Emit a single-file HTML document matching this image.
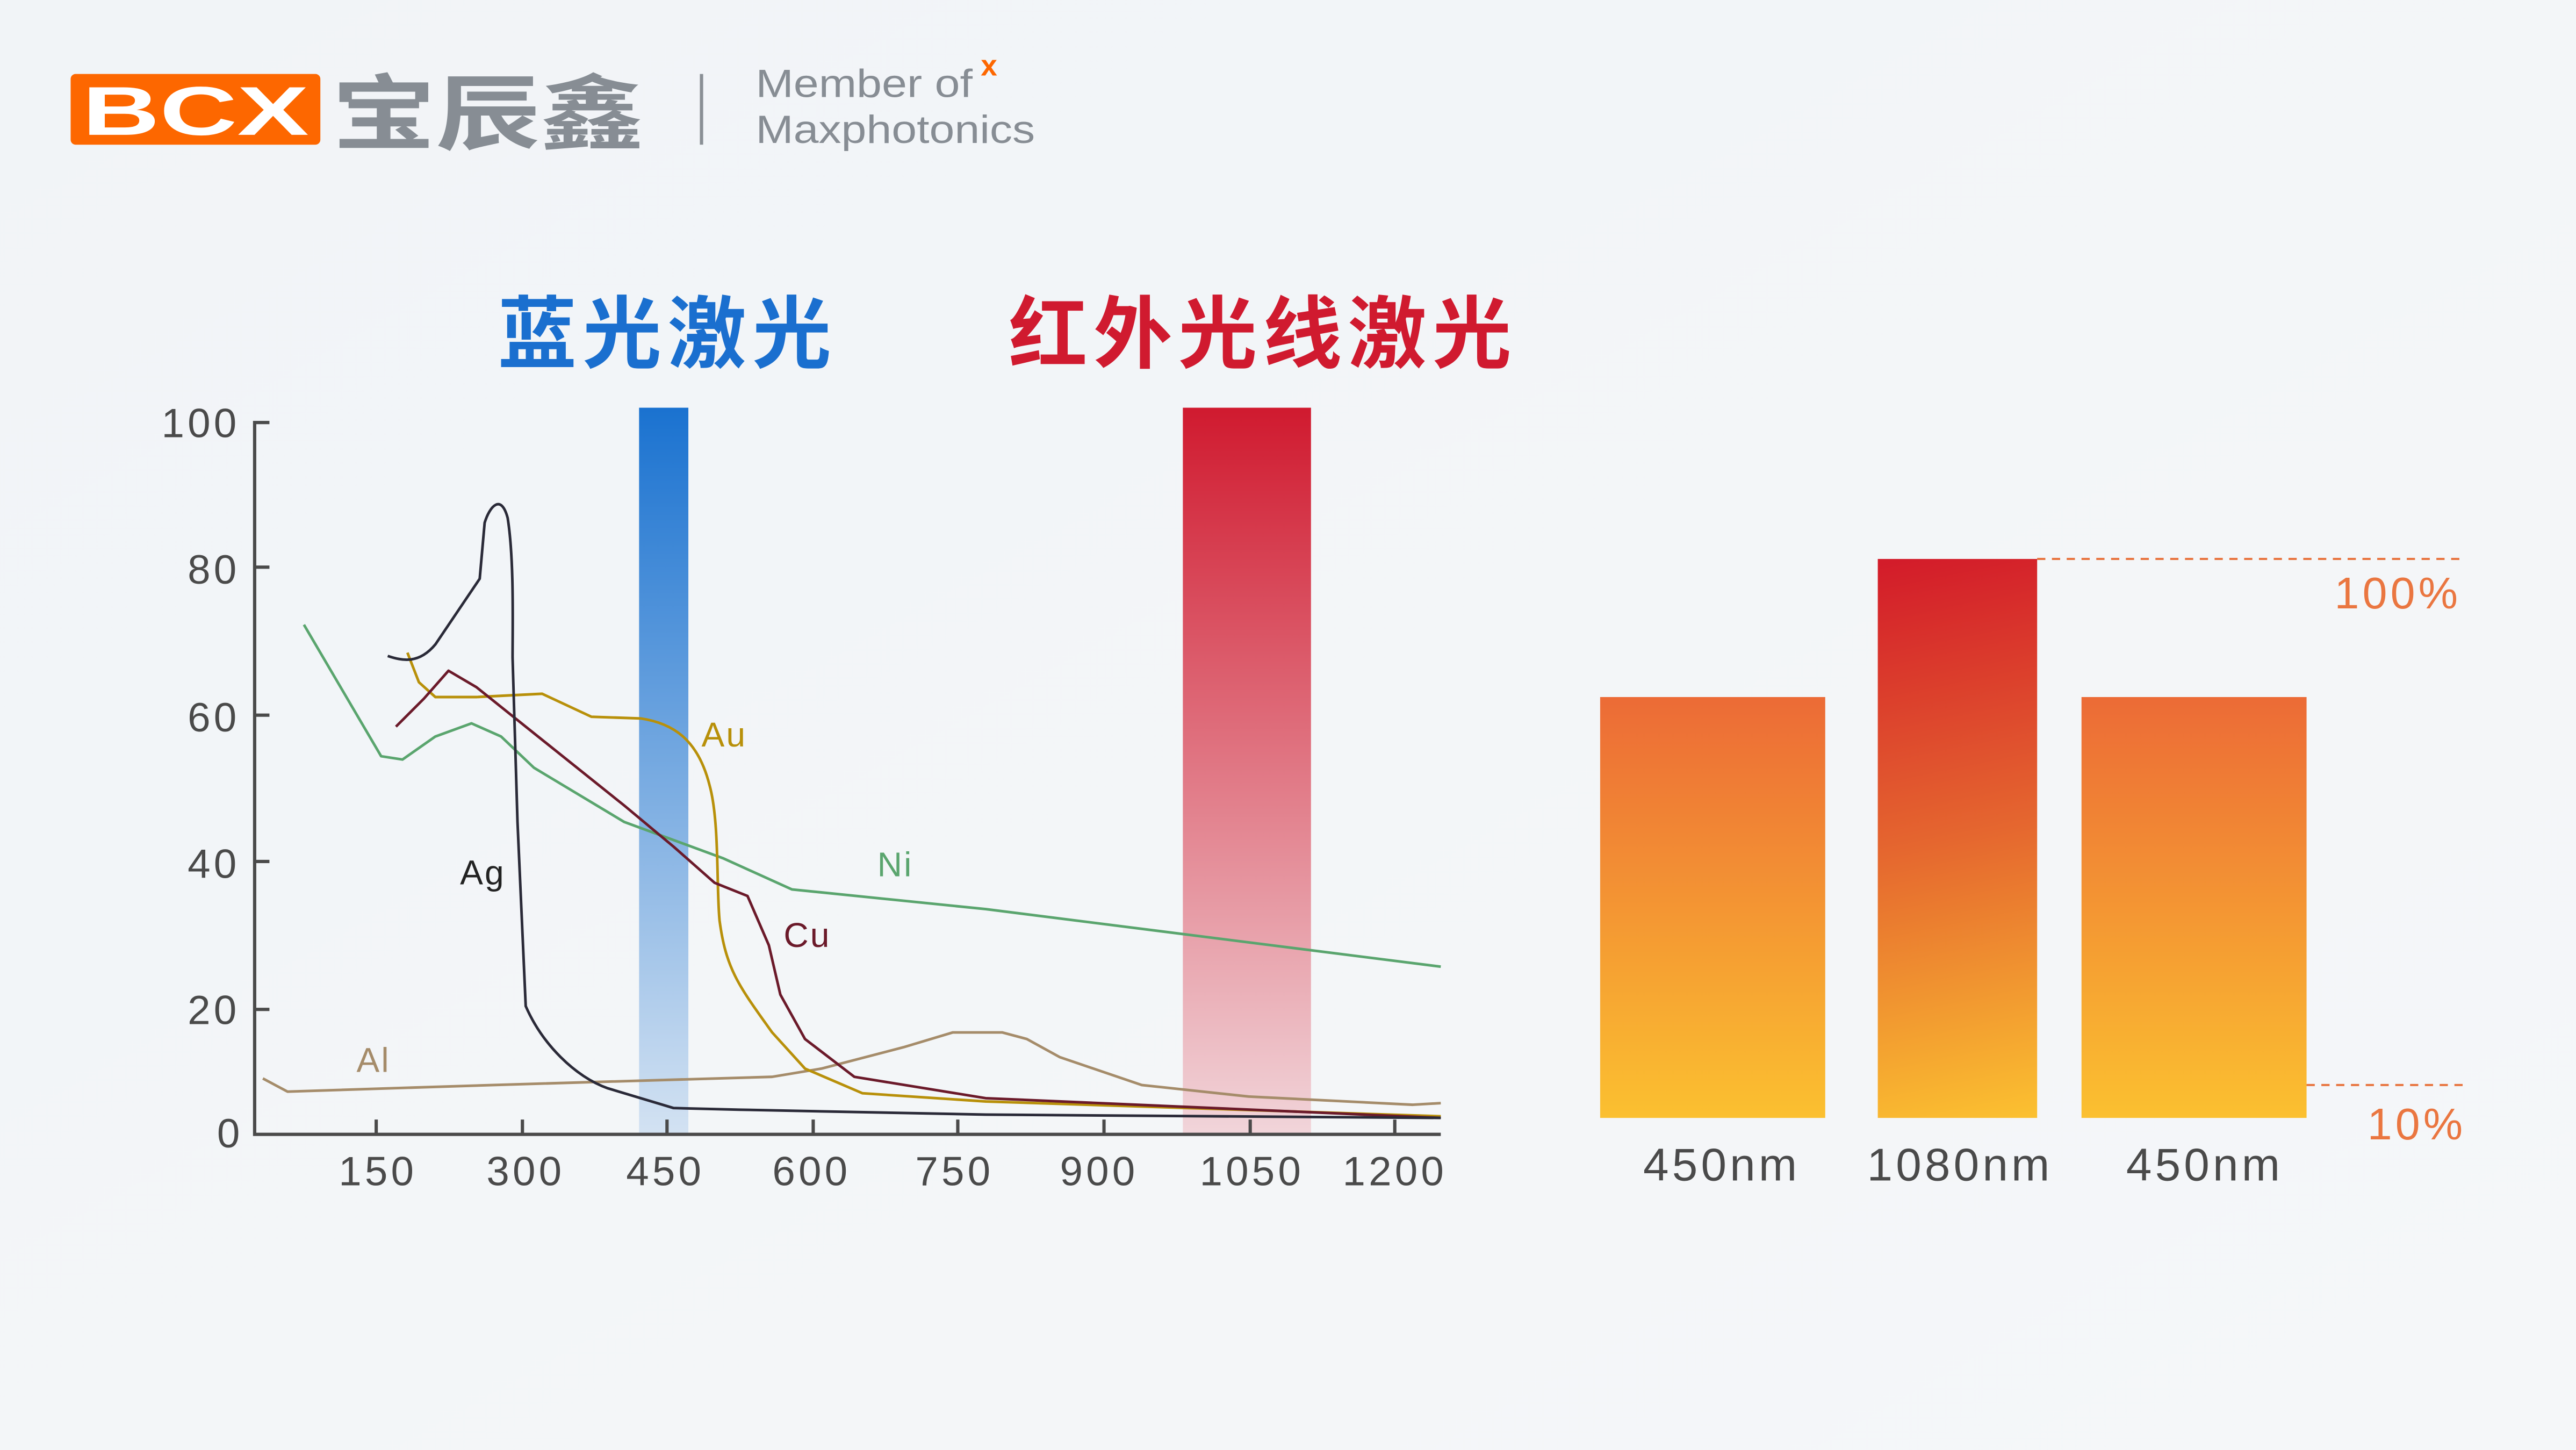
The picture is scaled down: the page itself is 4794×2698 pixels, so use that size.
<!DOCTYPE html>
<html><head><meta charset="utf-8"><style>
html,body{margin:0;padding:0;width:4794px;height:2698px;overflow:hidden;background:#f2f5f8}
svg{display:block}
</style></head><body>
<svg width="4794" height="2698" viewBox="0 0 1568 882" preserveAspectRatio="none" xmlns="http://www.w3.org/2000/svg">
<defs>
<linearGradient id="bg" x1="0" y1="0" x2="1" y2="1"><stop offset="0" stop-color="#f1f4f7"/><stop offset="1" stop-color="#f5f7f9"/></linearGradient>
<linearGradient id="blue" x1="0" y1="0" x2="0" y2="1"><stop offset="0" stop-color="#1a72d0"/><stop offset="1" stop-color="#d3e2f2"/></linearGradient>
<linearGradient id="red" x1="0" y1="0" x2="0" y2="1"><stop offset="0" stop-color="#d01a2f"/><stop offset="1" stop-color="#f1d5da"/></linearGradient>
<linearGradient id="or" x1="0" y1="0" x2="0" y2="1"><stop offset="0" stop-color="#ec6b36"/><stop offset="1" stop-color="#fbc030"/></linearGradient>
<linearGradient id="mid" gradientUnits="userSpaceOnUse" x1="1160" y1="340" x2="1230" y2="680"><stop offset="0" stop-color="#d31c2a"/><stop offset="0.5" stop-color="#e5672f"/><stop offset="1" stop-color="#fbc030"/></linearGradient>
</defs>
<rect width="1568" height="882" fill="url(#bg)"/>
<!-- logo -->
<rect x="43" y="45" width="152" height="43" rx="3" fill="#fd6700"/>
<text x="50" y="82" font-family="Liberation Sans, sans-serif" font-weight="bold" font-size="42" fill="#fff" textLength="138" lengthAdjust="spacingAndGlyphs">BCX</text>
<text x="202" y="87" font-family="Liberation Sans, 'Noto Sans CJK SC', sans-serif" font-weight="bold" font-size="50" fill="#878d94" textLength="190" lengthAdjust="spacingAndGlyphs">宝辰鑫</text>
<rect x="426" y="45" width="2" height="43" fill="#8a8f95"/>
<text x="460" y="59" font-family="Liberation Sans, sans-serif" font-size="24" fill="#878d94" textLength="132" lengthAdjust="spacingAndGlyphs">Member of</text>
<text x="597" y="46" font-family="Liberation Sans, sans-serif" font-weight="bold" font-size="18" fill="#fd6700">x</text>
<text x="460" y="87" font-family="Liberation Sans, sans-serif" font-size="24" fill="#878d94" textLength="170" lengthAdjust="spacingAndGlyphs">Maxphotonics</text>
<!-- titles -->
<text x="303" y="220" font-family="Liberation Sans, 'Noto Sans CJK SC', sans-serif" font-weight="bold" font-size="48" fill="#1a6fcf" textLength="203">蓝光激光</text>
<text x="614" y="220" font-family="Liberation Sans, 'Noto Sans CJK SC', sans-serif" font-weight="bold" font-size="48" fill="#d01a2f" textLength="306">红外光线激光</text>
<!-- bars -->
<rect x="389" y="248" width="30" height="442" fill="url(#blue)"/>
<rect x="720" y="248" width="78" height="442" fill="url(#red)"/>
<!-- axes -->
<g stroke="#4a4a4a" stroke-width="2" fill="none">
<path d="M164,257 H155 V690 H877"/>
<path d="M155,345 H164 M155,435 H164 M155,524 H164 M155,614 H164"/>
<path d="M229,690 V681 M318,690 V681 M406,690 V681 M495,690 V681 M583,690 V681 M672,690 V681 M761,690 V681 M849,690 V681"/>
</g>
<g font-family="Liberation Sans, sans-serif" font-size="25" fill="#4a4a4a" text-anchor="end" letter-spacing="2">
<text x="146" y="266">100</text><text x="146" y="355">80</text><text x="146" y="445">60</text><text x="146" y="534">40</text><text x="146" y="623">20</text><text x="148" y="698">0</text>
</g>
<g font-family="Liberation Sans, sans-serif" font-size="25" fill="#4a4a4a" text-anchor="middle" letter-spacing="2">
<text x="230" y="721">150</text><text x="320" y="721">300</text><text x="405" y="721">450</text><text x="494" y="721">600</text><text x="581" y="721">750</text><text x="669" y="721">900</text><text x="762" y="721">1050</text><text x="849" y="721">1200</text>
</g>
<!-- curves -->
<g fill="none" stroke-width="1.6" stroke-linejoin="round">
<path stroke="#a58c6a" d="M160,656 L175,664 L300,660 L470,655 L500,650 L550,637 L580,628 L610,628 L625,632 L645,643 L695,660 L760,667 L860,672 L877,671"/>
<path stroke="#5aa56e" d="M185,380 L232,460 L245,462 L265,448 L287,440 L305,448 L325,467 L380,500 L440,522 L482,541 L600,553 L877,588"/>
<path stroke="#b8900a" d="M248,397 L255,415 L265,424 L290,424 L330,422 L360,436 L390,437 C410,440 425,450 432,478 C438,500 436,540 438,560 C442,590 450,600 470,628 L490,650 L525,665 L600,670 L877,679"/>
<path stroke="#6b1a2a" d="M241,442 L258,425 L273,408 L290,418 L330,450 L380,490 L410,515 L435,537 L455,545 L468,575 L475,605 L490,632 L520,655 L600,668 L877,680"/>
<path stroke="#2a2a38" d="M236,399 C245,402 255,404 265,392 L292,352 L295,318 C298,308 305,300 309,315 C313,340 312,380 312,400 L315,500 L320,612 C330,635 350,655 370,662 L410,674 L450,675 L600,678 L877,680"/>
</g>
<g font-family="Liberation Sans, sans-serif" font-size="21" letter-spacing="1">
<text x="427" y="454" fill="#b8900a">Au</text>
<text x="534" y="533" fill="#5aa56e">Ni</text>
<text x="280" y="538" fill="#222">Ag</text>
<text x="477" y="576" fill="#6b1a2a">Cu</text>
<text x="217" y="652" fill="#a58c6a">Al</text>
</g>
<!-- right bars -->
<rect x="974" y="424" width="137" height="256" fill="url(#or)"/>
<rect x="1143" y="340" width="97" height="340" fill="url(#mid)"/>
<rect x="1267" y="424" width="137" height="256" fill="url(#or)"/>
<g stroke="#e8743f" stroke-width="1.3" stroke-dasharray="5,4">
<path d="M1240,340 H1500"/><path d="M1404,660 H1502"/>
</g>
<g font-family="Liberation Sans, sans-serif" font-size="27" fill="#ea7640" letter-spacing="2">
<text x="1421" y="370">100%</text><text x="1441" y="693">10%</text>
</g>
<g font-family="Liberation Sans, sans-serif" font-size="28" fill="#4a4a4a" text-anchor="middle" letter-spacing="2">
<text x="1048" y="718">450nm</text><text x="1193" y="718">1080nm</text><text x="1342" y="718">450nm</text>
</g>
</svg>
</body></html>
